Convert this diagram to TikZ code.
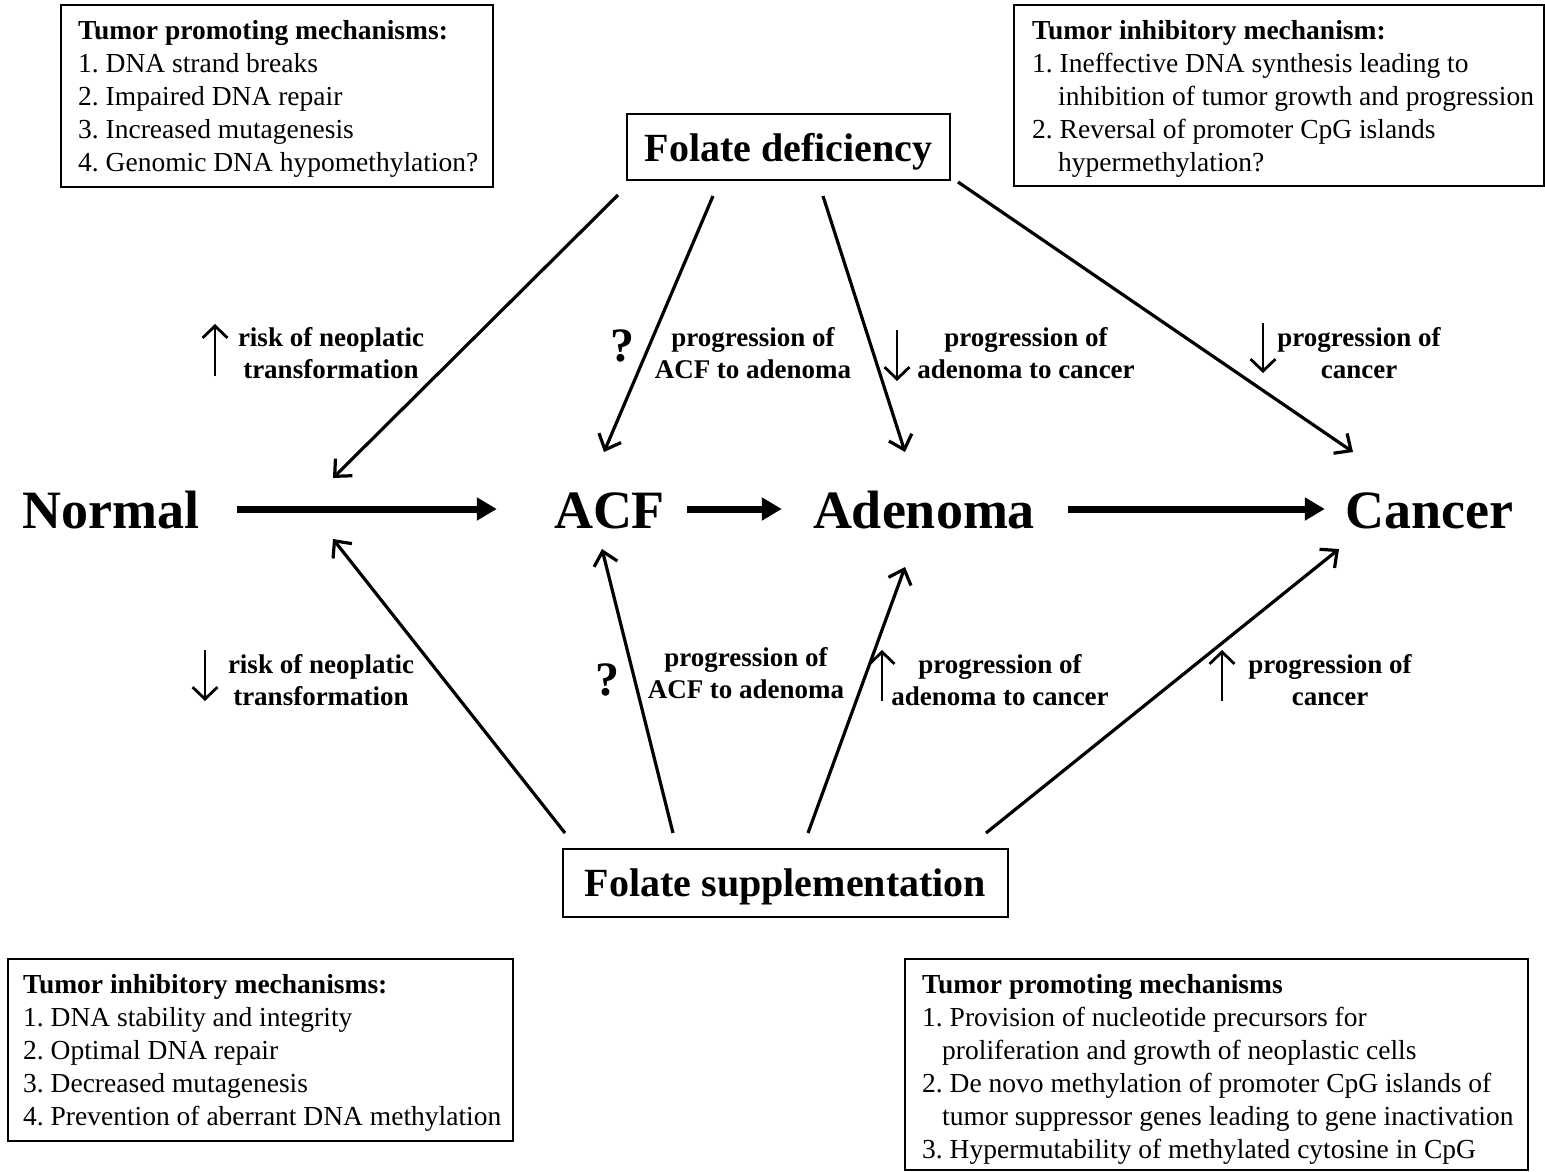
\documentclass[tikz,border=0pt]{standalone}
\usepackage{fontspec}
\setmainfont{Liberation Serif}
\usetikzlibrary{arrows.meta,calc}
\frenchspacing
\begin{document}
\frenchspacing
\begin{tikzpicture}[x=1pt,y=-1pt,
  mainnode/.style={font=\fontsize{54}{60}\selectfont\bfseries, inner sep=0pt, text height=38pt, text depth=0pt, anchor=base},
  lbl/.style={font=\fontsize{27}{32}\selectfont\bfseries, align=center, inner sep=0pt},
  boxframe/.style={draw, line width=1.6pt, inner sep=0pt, anchor=north west},
  boxtext/.style={font=\fontsize{27.5}{33}\selectfont, align=left, inner sep=0pt, anchor=west},
  folbox/.style={draw, line width=1.6pt, font=\fontsize{40}{44}\selectfont\bfseries, inner sep=0pt},
  bigarrow/.style={line width=7pt, -{Triangle[length=20pt,width=22pt]}},
  diag/.style={line width=3.2pt, -{Straight Barb[length=13pt,width=24pt]}},
  updown/.style={line width=2.8pt, -{Straight Barb[length=12pt,width=25pt]}},
  qmark/.style={font=\fontsize{48}{50}\selectfont\bfseries, inner sep=0pt}
]
\useasboundingbox[fill=white] (0,0) rectangle (1545,1171);

% main stages
\node[mainnode] (normal) at (111,528) {Normal};
\node[mainnode] (acf) at (609.5,528) {ACF};
\node[mainnode] (adenoma) at (924,528) {Adenoma};
\node[mainnode] (cancer) at (1429,528) {Cancer};

\draw[bigarrow] ([xshift=37pt]normal.east) -- ([xshift=-57pt]acf.west);
\draw[bigarrow] ([xshift=22pt]acf.east) -- ([xshift=-31pt]adenoma.west);
\draw[bigarrow] ([xshift=33pt]adenoma.east) -- ([xshift=-20pt]cancer.west);

% folate boxes
\node[folbox, minimum width=323pt, minimum height=66pt, text height=32pt, text depth=4pt] (fd) at (788.5,147) {Folate deficiency};
\node[folbox, minimum width=445pt, minimum height=68pt, text height=30pt, text depth=4pt] (fs) at (785.5,883) {Folate supplementation};

% connector end points
\coordinate (fdA) at (618,195);  \coordinate (nA) at (333,478);
\coordinate (fdB) at (713,196);  \coordinate (aB) at (604,452);
\coordinate (fdC) at (823,196);  \coordinate (adC) at (905,452);
\coordinate (fdD) at (958,182);  \coordinate (cD) at (1353,452);
\coordinate (fsA) at (565,833);  \coordinate (nE) at (333,539);
\coordinate (fsB) at (673,833);  \coordinate (aF) at (602,549);
\coordinate (fsC) at (808,833);  \coordinate (adG) at (905,567);
\coordinate (fsD) at (986,833);  \coordinate (cH) at (1339,549);

\draw[diag] (fdA) -- (nA);
\draw[diag] (fdB) -- (aB);
\draw[diag] (fdC) -- (adC);
\draw[diag] (fdD) -- (cD);
\draw[diag] (fsA) -- (nE);
\draw[diag] (fsB) -- (aF);
\draw[diag] (fsC) -- (adG);
\draw[diag] (fsD) -- (cH);

% labels (top)
\node[lbl] (t1) at (331,353) {risk of neoplatic\\transformation};
\node[qmark] (q1) at (622,346) {?};
\node[lbl] (t2) at (753,353) {progression of\\ACF to adenoma};
\node[lbl] (t3) at (1026,353) {progression of\\adenoma to cancer};
\node[lbl] (t4) at (1359,353) {progression of\\cancer};
% labels (bottom)
\node[lbl] (b1) at (321,680) {risk of neoplatic\\transformation};
\node[qmark] (q2) at (607,680) {?};
\node[lbl] (b2) at (746,673) {progression of\\ACF to adenoma};
\node[lbl] (b3) at (1000,680) {progression of\\adenoma to cancer};
\node[lbl] (b4) at (1330,680) {progression of\\cancer};

% small up/down arrows
\coordinate (u1a) at (215,376);  \coordinate (u1b) at (215,324);
\coordinate (d2a) at (897,330);  \coordinate (d2b) at (897,381);
\coordinate (d3a) at (1263,323); \coordinate (d3b) at (1263,373);
\coordinate (d4a) at (205,650);  \coordinate (d4b) at (205,701);
\coordinate (u5a) at (882,701);  \coordinate (u5b) at (882,650);
\coordinate (u6a) at (1222,701); \coordinate (u6b) at (1222,650);
\draw[updown] (u1a) -- (u1b);
\draw[updown] (d2a) -- (d2b);
\draw[updown] (d3a) -- (d3b);
\draw[updown] (d4a) -- (d4b);
\draw[updown] (u5a) -- (u5b);
\draw[updown] (u6a) -- (u6b);

% mechanism boxes
\node[boxframe, minimum width=432pt, minimum height=182pt] (tl) at (60,4) {};
\node[boxtext] (tltext) at ([xshift=18pt,yshift=-3pt]tl.west) {\textbf{Tumor promoting mechanisms:}\\
1. DNA strand breaks\\
2. Impaired DNA repair\\
3. Increased mutagenesis\\
4. Genomic DNA hypomethylation?};

\node[boxframe, minimum width=530pt, minimum height=181pt] (tr) at (1013,4) {};
\node[boxtext] (trtext) at ([xshift=19pt,yshift=-3.5pt]tr.west) {\textbf{Tumor inhibitory mechanism:}\\
1. Ineffective DNA synthesis leading to\\
\hspace*{26pt}inhibition of tumor growth and progression\\
2. Reversal of promoter CpG islands\\
\hspace*{26pt}hypermethylation?};

\node[boxframe, minimum width=505pt, minimum height=182pt] (bl) at (7,958) {};
\node[boxtext] (bltext) at ([xshift=16pt,yshift=-3pt]bl.west) {\textbf{Tumor inhibitory mechanisms:}\\
1. DNA stability and integrity\\
2. Optimal DNA repair\\
3. Decreased mutagenesis\\
4. Prevention of aberrant DNA methylation};

\node[boxframe, minimum width=623pt, minimum height=211pt] (br) at (904,958) {};
\node[boxtext] (brtext) at ([xshift=18pt,yshift=-5pt]br.west) {\textbf{Tumor promoting mechanisms}\\
1. Provision of nucleotide precursors for\\
\hspace*{20pt}proliferation and growth of neoplastic cells\\
2. De novo methylation of promoter CpG islands of\\
\hspace*{20pt}tumor suppressor genes leading to gene inactivation\\
3. Hypermutability of methylated cytosine in CpG};
\end{tikzpicture}
\end{document}
